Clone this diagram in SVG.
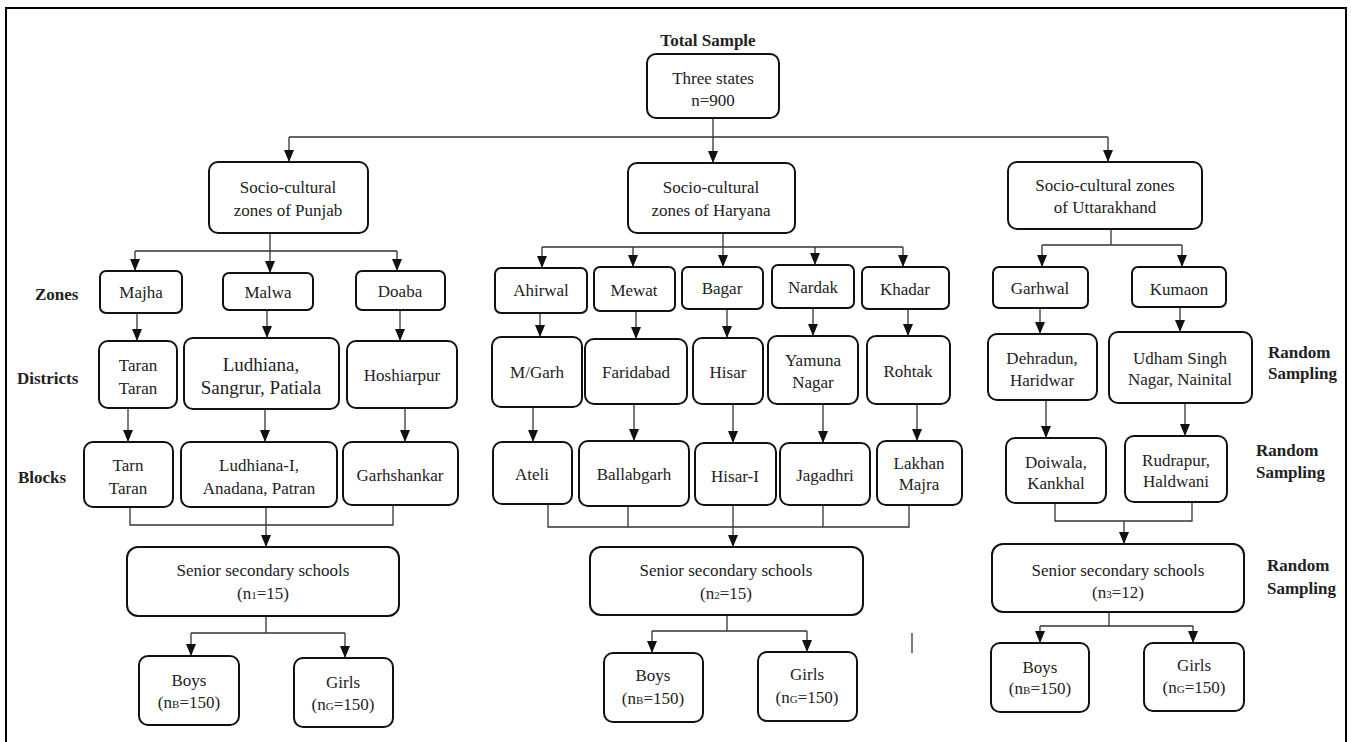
<svg xmlns="http://www.w3.org/2000/svg" width="1351" height="742" viewBox="0 0 1351 742" font-family="Liberation Serif, Times New Roman, Times, serif">
<style>
.b{fill:#fff;stroke:#111;stroke-width:2}
.t{font-size:17px;fill:#222;text-anchor:middle}
.l{font-size:17px;font-weight:bold;fill:#222}
.c{fill:none;stroke:#333;stroke-width:1.3}
.s{font-size:11px}
</style>
<defs>
<marker id="a" viewBox="0 0 12 10" refX="12" refY="5" markerWidth="12" markerHeight="10" markerUnits="userSpaceOnUse" orient="auto">
<path d="M0,0 L12,5 L0,10 z" fill="#111"/>
</marker>
</defs>
<rect width="1351" height="742" fill="#fff"/>
<path d="M6,742 V8 H1346 V742" fill="none" stroke="#000" stroke-width="2"/>

<g id="labels">
<text class="l" x="708" y="46" text-anchor="middle">Total Sample</text>
<text class="l" x="35" y="300">Zones</text>
<text class="l" x="17" y="384">Districts</text>
<text class="l" x="18" y="483">Blocks</text>
<text class="l" x="1268" y="358">Random</text>
<text class="l" x="1268" y="379">Sampling</text>
<text class="l" x="1256" y="456">Random</text>
<text class="l" x="1256" y="478">Sampling</text>
<text class="l" x="1267" y="571">Random</text>
<text class="l" x="1267" y="594">Sampling</text>
</g>

<g id="connectors">
<path class="c" d="M713,118 V137 M289,137 H1108"/>
<path class="c" marker-end="url(#a)" d="M289,137 V162"/>
<path class="c" marker-end="url(#a)" d="M713,137 V163"/>
<path class="c" marker-end="url(#a)" d="M1108,137 V162"/>
<path class="c" d="M270,233 V251 M135,251 H397"/>
<path class="c" marker-end="url(#a)" d="M135,251 V271"/>
<path class="c" marker-end="url(#a)" d="M270,251 V273"/>
<path class="c" marker-end="url(#a)" d="M397,251 V271"/>
<path class="c" marker-end="url(#a)" d="M137,313 V341"/>
<path class="c" marker-end="url(#a)" d="M267,310 V338"/>
<path class="c" marker-end="url(#a)" d="M400,310 V341"/>
<path class="c" marker-end="url(#a)" d="M128,408 V442"/>
<path class="c" marker-end="url(#a)" d="M265,409 V442"/>
<path class="c" marker-end="url(#a)" d="M405,408 V442"/>
<path class="c" d="M130,507 V525 H393 V505"/>
<path class="c" marker-end="url(#a)" d="M266,507 V547"/>
<path class="c" d="M266,616 V633 M191,633 H345"/>
<path class="c" marker-end="url(#a)" d="M191,633 V656"/>
<path class="c" marker-end="url(#a)" d="M345,633 V658"/>
<path class="c" d="M723,233 V247 M542,247 H903"/>
<path class="c" marker-end="url(#a)" d="M542,247 V268"/>
<path class="c" marker-end="url(#a)" d="M633,247 V267"/>
<path class="c" marker-end="url(#a)" d="M723,247 V267"/>
<path class="c" marker-end="url(#a)" d="M815,247 V265"/>
<path class="c" marker-end="url(#a)" d="M903,247 V267"/>
<path class="c" marker-end="url(#a)" d="M540,313 V337"/>
<path class="c" marker-end="url(#a)" d="M636,311 V339"/>
<path class="c" marker-end="url(#a)" d="M727,309 V338"/>
<path class="c" marker-end="url(#a)" d="M813,308 V336"/>
<path class="c" marker-end="url(#a)" d="M908,309 V336"/>
<path class="c" marker-end="url(#a)" d="M533,407 V442"/>
<path class="c" marker-end="url(#a)" d="M634,404 V441"/>
<path class="c" marker-end="url(#a)" d="M733,404 V443"/>
<path class="c" marker-end="url(#a)" d="M823,404 V443"/>
<path class="c" marker-end="url(#a)" d="M917,404 V441"/>
<path class="c" d="M548,504 V527 H909 V505 M628,506 V527 M823,505 V527"/>
<path class="c" marker-end="url(#a)" d="M733,505 V547"/>
<path class="c" d="M727,615 V631 M652,631 H807"/>
<path class="c" marker-end="url(#a)" d="M652,631 V653"/>
<path class="c" marker-end="url(#a)" d="M807,631 V652"/>
<path class="c" d="M912,633 V653"/>
<path class="c" d="M1111,229 V245 M1042,245 H1182"/>
<path class="c" marker-end="url(#a)" d="M1042,245 V267"/>
<path class="c" marker-end="url(#a)" d="M1182,245 V267"/>
<path class="c" marker-end="url(#a)" d="M1040,308 V334"/>
<path class="c" marker-end="url(#a)" d="M1180,307 V332"/>
<path class="c" marker-end="url(#a)" d="M1046,400 V438"/>
<path class="c" marker-end="url(#a)" d="M1185,403 V436"/>
<path class="c" d="M1055,503 V521 H1192 V502"/>
<path class="c" marker-end="url(#a)" d="M1124,521 V544"/>
<path class="c" d="M1109,612 V626 M1040,626 H1193"/>
<path class="c" marker-end="url(#a)" d="M1040,626 V643"/>
<path class="c" marker-end="url(#a)" d="M1193,626 V643"/>
</g>

<g id="root"><rect class="b" x="647" y="54" width="132" height="64" rx="9"/><text class="t" x="713" y="84">Three states</text><text class="t" x="713" y="106">n=900</text></g>

<g id="punjab"><rect class="b" x="209" y="162" width="159" height="71" rx="9"/><text class="t" x="288" y="193">Socio-cultural</text><text class="t" x="288" y="216">zones of Punjab</text></g>
<g id="haryana"><rect class="b" x="628" y="163" width="167" height="70" rx="9"/><text class="t" x="711" y="193">Socio-cultural</text><text class="t" x="711" y="216">zones of Haryana</text></g>
<g id="uttarakhand"><rect class="b" x="1008" y="162" width="194" height="67" rx="9"/><text class="t" x="1105" y="191">Socio-cultural zones</text><text class="t" x="1105" y="213">of Uttarakhand</text></g>

<g id="majha"><rect class="b" x="100" y="271" width="82" height="42" rx="6"/><text class="t" x="141" y="298">Majha</text></g>
<g id="malwa"><rect class="b" x="223" y="273" width="90" height="37" rx="6"/><text class="t" x="268" y="298">Malwa</text></g>
<g id="doaba"><rect class="b" x="356" y="271" width="89" height="39" rx="6"/><text class="t" x="400" y="297">Doaba</text></g>

<g id="taran-d"><rect class="b" x="99" y="341" width="78" height="67" rx="9"/><text class="t" x="138" y="371">Taran</text><text class="t" x="138" y="394">Taran</text></g>
<g id="ludhiana-d"><rect class="b" x="184" y="338" width="155" height="71" rx="9"/><text class="t" x="261" y="371" style="font-size:19px">Ludhiana,</text><text class="t" x="261" y="394" style="font-size:19px">Sangrur, Patiala</text></g>
<g id="hoshiarpur"><rect class="b" x="347" y="341" width="110" height="67" rx="9"/><text class="t" x="402" y="381">Hoshiarpur</text></g>

<g id="tarn-b"><rect class="b" x="84" y="442" width="89" height="65" rx="9"/><text class="t" x="128" y="471">Tarn</text><text class="t" x="128" y="494">Taran</text></g>
<g id="ludhiana-b"><rect class="b" x="181" y="442" width="156" height="65" rx="9"/><text class="t" x="259" y="471">Ludhiana-I,</text><text class="t" x="259" y="494">Anadana, Patran</text></g>
<g id="garhshankar"><rect class="b" x="343" y="442" width="115" height="63" rx="9"/><text class="t" x="400" y="481">Garhshankar</text></g>

<g id="sss1"><rect class="b" x="127" y="547" width="272" height="69" rx="11"/><text class="t" x="263" y="576">Senior secondary schools</text><text class="t" x="263" y="599">(n<tspan class="s">1</tspan>=15)</text></g>
<g id="boys1"><rect class="b" x="139" y="656" width="100" height="69" rx="9"/><text class="t" x="189" y="686">Boys</text><text class="t" x="189" y="708">(n<tspan class="s">B</tspan>=150)</text></g>
<g id="girls1"><rect class="b" x="294" y="658" width="99" height="69" rx="9"/><text class="t" x="343" y="688">Girls</text><text class="t" x="343" y="710">(n<tspan class="s">G</tspan>=150)</text></g>

<g id="ahirwal"><rect class="b" x="495" y="268" width="92" height="45" rx="6"/><text class="t" x="541" y="296">Ahirwal</text></g>
<g id="mewat"><rect class="b" x="594" y="267" width="81" height="44" rx="6"/><text class="t" x="634" y="296">Mewat</text></g>
<g id="bagar"><rect class="b" x="682" y="267" width="81" height="42" rx="6"/><text class="t" x="722" y="294">Bagar</text></g>
<g id="nardak"><rect class="b" x="772" y="265" width="82" height="43" rx="6"/><text class="t" x="813" y="293">Nardak</text></g>
<g id="khadar"><rect class="b" x="862" y="267" width="87" height="42" rx="6"/><text class="t" x="905" y="295">Khadar</text></g>

<g id="mgarh"><rect class="b" x="492" y="337" width="90" height="70" rx="9"/><text class="t" x="537" y="378">M/Garh</text></g>
<g id="faridabad"><rect class="b" x="585" y="339" width="102" height="65" rx="9"/><text class="t" x="636" y="378">Faridabad</text></g>
<g id="hisar"><rect class="b" x="693" y="338" width="70" height="66" rx="9"/><text class="t" x="728" y="378">Hisar</text></g>
<g id="yamuna"><rect class="b" x="768" y="336" width="90" height="68" rx="9"/><text class="t" x="813" y="366">Yamuna</text><text class="t" x="813" y="388">Nagar</text></g>
<g id="rohtak"><rect class="b" x="867" y="336" width="83" height="68" rx="9"/><text class="t" x="908" y="377">Rohtak</text></g>

<g id="ateli"><rect class="b" x="493" y="442" width="79" height="62" rx="9"/><text class="t" x="532" y="480">Ateli</text></g>
<g id="ballabgarh"><rect class="b" x="579" y="441" width="110" height="65" rx="9"/><text class="t" x="634" y="480">Ballabgarh</text></g>
<g id="hisar1"><rect class="b" x="695" y="443" width="81" height="62" rx="9"/><text class="t" x="735" y="482">Hisar-I</text></g>
<g id="jagadhri"><rect class="b" x="780" y="443" width="90" height="62" rx="9"/><text class="t" x="825" y="481">Jagadhri</text></g>
<g id="lakhan"><rect class="b" x="877" y="441" width="85" height="64" rx="9"/><text class="t" x="919" y="469">Lakhan</text><text class="t" x="919" y="490">Majra</text></g>

<g id="sss2"><rect class="b" x="590" y="547" width="273" height="68" rx="11"/><text class="t" x="726" y="576">Senior secondary schools</text><text class="t" x="726" y="599">(n<tspan class="s">2</tspan>=15)</text></g>
<g id="boys2"><rect class="b" x="604" y="653" width="99" height="69" rx="9"/><text class="t" x="653" y="681">Boys</text><text class="t" x="653" y="704">(n<tspan class="s">B</tspan>=150)</text></g>
<g id="girls2"><rect class="b" x="758" y="652" width="99" height="69" rx="9"/><text class="t" x="807" y="680">Girls</text><text class="t" x="807" y="703">(n<tspan class="s">G</tspan>=150)</text></g>

<g id="garhwal"><rect class="b" x="993" y="267" width="95" height="41" rx="6"/><text class="t" x="1040" y="294">Garhwal</text></g>
<g id="kumaon"><rect class="b" x="1132" y="267" width="94" height="40" rx="6"/><text class="t" x="1179" y="295">Kumaon</text></g>

<g id="dehradun"><rect class="b" x="988" y="334" width="109" height="66" rx="9"/><text class="t" x="1042" y="364">Dehradun,</text><text class="t" x="1042" y="386">Haridwar</text></g>
<g id="udham"><rect class="b" x="1109" y="332" width="143" height="71" rx="9"/><text class="t" x="1180" y="364">Udham Singh</text><text class="t" x="1180" y="385">Nagar, Nainital</text></g>

<g id="doiwala"><rect class="b" x="1006" y="438" width="100" height="65" rx="9"/><text class="t" x="1056" y="468">Doiwala,</text><text class="t" x="1056" y="489">Kankhal</text></g>
<g id="rudrapur"><rect class="b" x="1125" y="436" width="102" height="66" rx="9"/><text class="t" x="1176" y="466">Rudrapur,</text><text class="t" x="1176" y="487">Haldwani</text></g>

<g id="sss3"><rect class="b" x="992" y="544" width="252" height="68" rx="11"/><text class="t" x="1118" y="576">Senior secondary schools</text><text class="t" x="1118" y="598">(n<tspan class="s">3</tspan>=12)</text></g>
<g id="boys3"><rect class="b" x="991" y="643" width="98" height="69" rx="9"/><text class="t" x="1040" y="673">Boys</text><text class="t" x="1040" y="694">(n<tspan class="s">B</tspan>=150)</text></g>
<g id="girls3"><rect class="b" x="1144" y="643" width="100" height="68" rx="9"/><text class="t" x="1194" y="671">Girls</text><text class="t" x="1194" y="693">(n<tspan class="s">G</tspan>=150)</text></g>
</svg>
